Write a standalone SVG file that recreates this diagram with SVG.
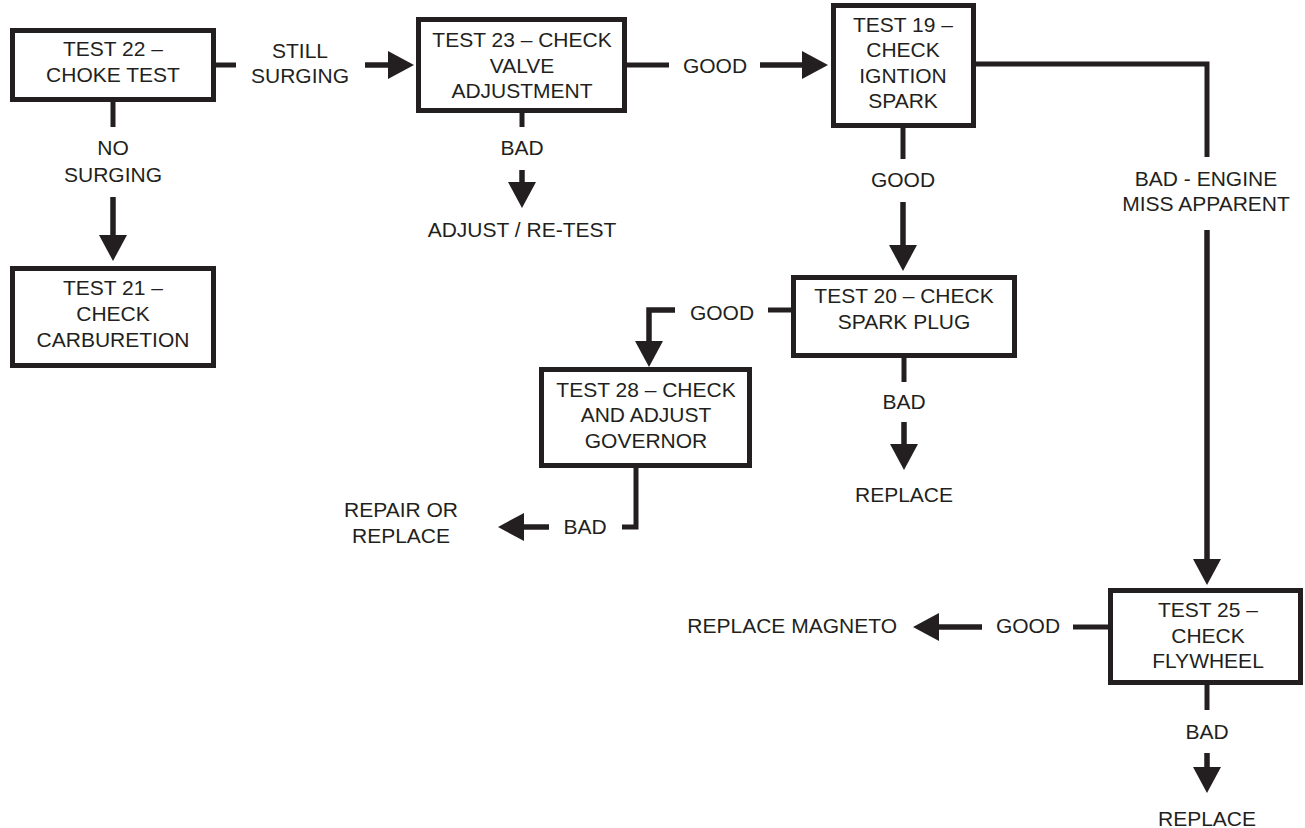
<svg xmlns="http://www.w3.org/2000/svg" width="1305" height="828" viewBox="0 0 1305 828">
<style>
.box{fill:#fff;stroke:#231f20;stroke-width:5}
.ln{fill:none;stroke:#231f20;stroke-width:5}
.ar{fill:none;stroke:#231f20;stroke-width:5.5;marker-end:url(#ah)}
text{font-family:"Liberation Sans",Arial,Helvetica,sans-serif;font-size:21px;fill:#231f20;text-anchor:middle}
</style>
<defs>
<marker id="ah" viewBox="0 0 26 28" refX="0" refY="14" markerWidth="26" markerHeight="28" markerUnits="userSpaceOnUse" orient="auto">
<path d="M0,0 L26,14 L0,28 z" fill="#231f20"/>
</marker>
</defs>
<rect width="1305" height="828" fill="#fff"/>
<g id="connectors">
<path class="ln" d="M216,65 H236"/>
<path class="ar" d="M365,65 H388"/>
<path class="ln" d="M627,65 H669"/>
<path class="ar" d="M760,65 H802"/>
<path class="ln" d="M522,113 V127"/>
<path class="ar" d="M522,170 V182"/>
<path class="ln" d="M113,102 V127"/>
<path class="ar" d="M113,197 V235"/>
<path class="ln" d="M903,128 V159"/>
<path class="ar" d="M903,202 V245"/>
<path class="ln" d="M792,310 H768"/>
<path class="ar" d="M675,310 H649 V341"/>
<path class="ln" d="M636,468 V527 H622"/>
<path class="ar" d="M549,527 H524"/>
<path class="ln" d="M904,358 V382"/>
<path class="ar" d="M904,422 V444"/>
<path class="ln" d="M976,64 H1207 V157"/>
<path class="ar" d="M1207,230 V559"/>
<path class="ln" d="M1108,627 H1073"/>
<path class="ar" d="M982,627 H939"/>
<path class="ln" d="M1207,685 V710"/>
<path class="ar" d="M1207,753 V767"/>
</g>
<g id="labels">
<text x="300" y="58">STILL</text>
<text x="300" y="83">SURGING</text>
<text x="715" y="73">GOOD</text>
<text x="522" y="155">BAD</text>
<text x="522" y="237">ADJUST / RE-TEST</text>
<text x="113" y="155">NO</text>
<text x="113" y="182">SURGING</text>
<text x="903" y="187">GOOD</text>
<text x="1206" y="186">BAD - ENGINE</text>
<text x="1206" y="211">MISS APPARENT</text>
<text x="722" y="320">GOOD</text>
<text x="585" y="534">BAD</text>
<text x="401" y="517">REPAIR OR</text>
<text x="401" y="543">REPLACE</text>
<text x="904" y="409">BAD</text>
<text x="904" y="502">REPLACE</text>
<text x="1028" y="633">GOOD</text>
<text x="897" y="633" style="text-anchor:end">REPLACE MAGNETO</text>
<text x="1207" y="739">BAD</text>
<text x="1207" y="826">REPLACE</text>
</g>
<g id="test22">
<rect class="box" x="12.5" y="30.5" width="201" height="69"/>
<text x="113" y="56">TEST 22 –</text>
<text x="113" y="82">CHOKE TEST</text>
</g>
<g id="test23">
<rect class="box" x="418.5" y="19.5" width="206" height="91"/>
<text x="522" y="47">TEST 23 – CHECK</text>
<text x="522" y="73">VALVE</text>
<text x="522" y="98">ADJUSTMENT</text>
</g>
<g id="test19">
<rect class="box" x="833.5" y="5.5" width="140" height="120"/>
<text x="903" y="32">TEST 19 –</text>
<text x="903" y="57">CHECK</text>
<text x="903" y="83">IGNTION</text>
<text x="903" y="108">SPARK</text>
</g>
<g id="test21">
<rect class="box" x="12.5" y="268.5" width="201" height="97"/>
<text x="113" y="295">TEST 21 –</text>
<text x="113" y="321">CHECK</text>
<text x="113" y="347">CARBURETION</text>
</g>
<g id="test20">
<rect class="box" x="793.5" y="277.5" width="221" height="78"/>
<text x="904" y="303">TEST 20 – CHECK</text>
<text x="904" y="329">SPARK PLUG</text>
</g>
<g id="test28">
<rect class="box" x="541.5" y="369.5" width="208" height="96"/>
<text x="646" y="397">TEST 28 – CHECK</text>
<text x="646" y="422">AND ADJUST</text>
<text x="646" y="448">GOVERNOR</text>
</g>
<g id="test25">
<rect class="box" x="1110.5" y="590.5" width="190" height="92"/>
<text x="1208" y="617">TEST 25 –</text>
<text x="1208" y="643">CHECK</text>
<text x="1208" y="668">FLYWHEEL</text>
</g>
</svg>
